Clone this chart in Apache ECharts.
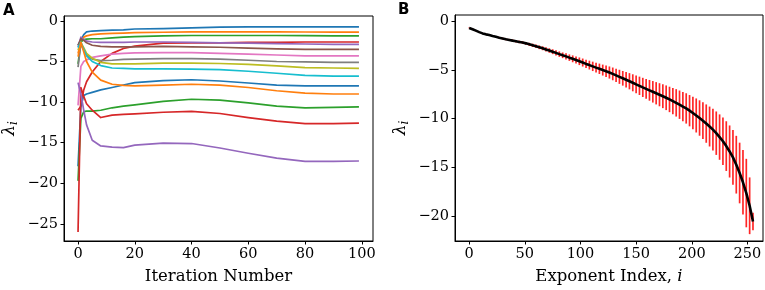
<!DOCTYPE html>
<html>
<head>
<meta charset="utf-8">
<script src="https://cdn.jsdelivr.net/npm/echarts@6/dist/echarts.min.js"></script>
<style>
  html, body { margin: 0; padding: 0; background: #fff; }
  #chart { width: 765px; height: 290px; }
</style>
</head>
<body>
<div id="chart"></div>
<script>
// ---- panel A: exponent estimates per iteration ----
const iterX = [0, 1, 2, 3, 5, 8, 12, 16, 20, 30, 40, 50, 60, 70, 80, 90, 99]

const exp01 = [-3.0, -2.4, -1.7, -1.35, -1.25, -1.2, -1.15, -1.1, -1.0, -0.95, -0.85, -0.78, -0.75, -0.75, -0.75, -0.75, -0.75]
const exp02 = [-4.0, -2.5, -2.0, -1.85, -1.7, -1.6, -1.55, -1.5, -1.45, -1.4, -1.35, -1.35, -1.35, -1.35, -1.37, -1.38, -1.38]
const exp03 = [-5.3, -2.6, -2.3, -2.25, -2.2, -2.2, -2.1, -2.0, -1.95, -1.85, -1.8, -1.8, -1.8, -1.8, -1.82, -1.85, -1.85]
const exp04 = [-11.0, -10.5, -8.5, -7.5, -6.3, -5.0, -4.0, -3.4, -3.1, -2.75, -2.7, -2.7, -2.65, -2.65, -2.6, -2.6, -2.6]
const exp05 = [-3.2, -2.0, -2.3, -2.5, -2.6, -2.65, -2.65, -2.65, -2.6, -2.6, -2.65, -2.7, -2.75, -2.8, -2.85, -2.9, -2.9]
const exp06 = [-3.0, -2.2, -2.4, -2.7, -3.0, -3.15, -3.2, -3.2, -3.2, -3.15, -3.2, -3.25, -3.35, -3.45, -3.5, -3.5, -3.5]
const exp07 = [-10.4, -5.6, -5.0, -4.8, -4.5, -4.3, -4.1, -4.0, -3.95, -3.9, -3.9, -4.0, -4.1, -4.2, -4.3, -4.3, -4.3]
const exp08 = [-5.7, -2.8, -3.6, -4.2, -4.7, -4.9, -4.85, -4.75, -4.7, -4.65, -4.65, -4.7, -4.85, -5.0, -5.05, -5.1, -5.1]
const exp09 = [-3.6, -2.7, -3.3, -4.0, -4.6, -5.1, -5.3, -5.3, -5.3, -5.2, -5.2, -5.25, -5.35, -5.55, -5.75, -5.8, -5.85]
const exp10 = [-3.3, -2.6, -3.5, -4.3, -5.0, -5.5, -5.8, -5.85, -5.9, -5.9, -5.95, -6.0, -6.2, -6.45, -6.7, -6.8, -6.8]
const exp11 = [-17.9, -10.5, -9.2, -9.0, -8.8, -8.5, -8.2, -7.9, -7.6, -7.35, -7.25, -7.4, -7.65, -7.9, -8.0, -8.0, -8.0]
const exp12 = [-4.4, -2.6, -3.8, -5.0, -6.3, -7.3, -7.8, -7.95, -8.0, -7.9, -7.8, -7.9, -8.2, -8.6, -8.9, -9.0, -9.0]
const exp13 = [-19.7, -12.0, -11.2, -11.1, -11.1, -11.0, -10.7, -10.5, -10.35, -9.9, -9.65, -9.75, -10.1, -10.5, -10.7, -10.65, -10.6]
const exp14 = [-26.0, -8.2, -9.3, -10.2, -11.0, -11.9, -11.6, -11.5, -11.45, -11.25, -11.15, -11.4, -11.9, -12.35, -12.65, -12.65, -12.6]
const exp15 = [-7.6, -9.0, -11.0, -12.8, -14.7, -15.4, -15.55, -15.6, -15.3, -15.05, -15.1, -15.65, -16.3, -16.9, -17.3, -17.3, -17.25]

const traces = [exp01, exp02, exp03, exp04, exp05, exp06, exp07, exp08, exp09, exp10, exp11, exp12, exp13, exp14, exp15]
const tab10 = ['#1f77b4', '#ff7f0e', '#2ca02c', '#d62728', '#9467bd', '#8c564b', '#e377c2', '#7f7f7f', '#bcbd22', '#17becf']

const iterTicks = [0, 20, 40, 60, 80, 100]
const lambdaTicksA = [0, -5, -10, -15, -20, -25]

// ---- panel B: spectrum mean and spread, every 3rd exponent ----
const expMean = [
  -0.72, -0.85, -1.0, -1.15, -1.28, -1.38, -1.45, -1.55, -1.63, -1.72,
  -1.8, -1.88, -1.95, -2.02, -2.08, -2.15, -2.22, -2.3, -2.4, -2.5,
  -2.6, -2.7, -2.8, -2.92, -3.03, -3.15, -3.27, -3.4, -3.52, -3.63,
  -3.76, -3.88, -4.0, -4.13, -4.26, -4.4, -4.52, -4.65, -4.78, -4.9,
  -5.03, -5.15, -5.28, -5.42, -5.57, -5.72, -5.87, -6.02, -6.17, -6.33,
  -6.49, -6.64, -6.8, -6.95, -7.1, -7.25, -7.4, -7.55, -7.7, -7.86,
  -8.03, -8.2, -8.38, -8.57, -8.76, -8.95, -9.18, -9.42, -9.67, -9.93,
  -10.2, -10.5, -10.8, -11.12, -11.48, -11.88, -12.3, -12.8, -13.35, -13.95,
  -14.7, -15.55, -16.5, -17.6, -18.9, -20.5
]
const expErr = [
  0.04, 0.05, 0.05, 0.06, 0.06, 0.07, 0.07, 0.08, 0.08, 0.09,
  0.1, 0.1, 0.11, 0.12, 0.12, 0.13, 0.14, 0.15, 0.16, 0.17,
  0.18, 0.19, 0.2, 0.22, 0.23, 0.25, 0.26, 0.28, 0.29, 0.31,
  0.33, 0.35, 0.37, 0.39, 0.41, 0.43, 0.45, 0.48, 0.5, 0.53,
  0.56, 0.59, 0.62, 0.65, 0.68, 0.72, 0.75, 0.79, 0.83, 0.87,
  0.9, 0.94, 0.98, 1.02, 1.06, 1.1, 1.14, 1.18, 1.22, 1.26,
  1.3, 1.35, 1.4, 1.45, 1.5, 1.55, 1.6, 1.67, 1.74, 1.81,
  1.88, 1.96, 2.04, 2.13, 2.22, 2.32, 2.42, 2.54, 2.66, 2.8,
  2.95, 3.1, 3.3, 3.5, 2.9, 0.9
]
const expIndex = expMean.map((v, k) => k * 3)

const indexTicks = [0, 50, 100, 150, 200, 250]
const lambdaTicksB = [0, -5, -10, -15, -20]

const SERIF = 'DejaVu Serif'
const minusFmt = (v) => String(v).replace('-', '\u2212')

function baseAxis(ticks, extra) {
  return Object.assign({
    type: 'value',
    splitLine: { show: false },
    axisLine: { show: true, onZero: false, lineStyle: { color: '#000', width: 1 } },
    axisTick: { show: true, length: 3.5, customValues: ticks, lineStyle: { color: '#000', width: 1 } },
    axisLabel: {
      customValues: ticks,
      color: '#000',
      fontFamily: SERIF,
      fontSize: 14.5,
      margin: 6,
      formatter: minusFmt,
    },
  }, extra)
}

const lambdaName = '{l|\u03bb}{s|i}'
const lambdaRich = {
  l: { fontFamily: SERIF, fontStyle: 'italic', fontSize: 17, color: '#000' },
  s: { fontFamily: SERIF, fontStyle: 'italic', fontSize: 12, color: '#000', verticalAlign: 'bottom', padding: [9, 0, 0, 0] },
}

let chart = echarts.init(document.getElementById('chart'), null, { renderer: 'canvas' })

let series = traces.map((arr, k) => ({
  type: 'line',
  xAxisIndex: 0,
  yAxisIndex: 0,
  showSymbol: false,
  symbol: 'none',
  data: iterX.map((x, j) => [x, arr[j]]),
  lineStyle: { color: tab10[k % 10], width: 1.7, join: 'round' },
  itemStyle: { color: tab10[k % 10] },
}))

series.push({
  type: 'custom',
  xAxisIndex: 1,
  yAxisIndex: 1,
  encode: { x: 0, y: [1, 2] },
  data: expIndex.map((x, j) => [x, expMean[j] - expErr[j], expMean[j] + expErr[j]]),
  renderItem: (params, api) => {
    let top = api.coord([api.value(0), api.value(2)])
    let bot = api.coord([api.value(0), api.value(1)])
    return {
      type: 'line',
      shape: { x1: top[0], y1: top[1], x2: bot[0], y2: bot[1] },
      style: { stroke: 'rgba(255,0,0,0.85)', lineWidth: 1.7 },
    }
  },
})

series.push({
  type: 'line',
  xAxisIndex: 1,
  yAxisIndex: 1,
  showSymbol: false,
  symbol: 'none',
  data: expIndex.map((x, j) => [x, expMean[j]]),
  lineStyle: { color: '#000', width: 2.6 },
  itemStyle: { color: '#000' },
  z: 5,
})

let option = {
  animation: false,
  backgroundColor: '#fff',
  textStyle: { fontFamily: SERIF },
  graphic: [
    { type: 'text', left: 3, top: 4, style: { text: 'A', fontFamily: 'DejaVu Sans', fontWeight: 'bold', fontSize: 15, fill: '#000' } },
    { type: 'text', left: 398, top: 3, style: { text: 'B', fontFamily: 'DejaVu Sans', fontWeight: 'bold', fontSize: 15, fill: '#000' } },
  ],
  grid: [
    { left: 63, top: 16, width: 310, height: 227, show: true, borderColor: '#000', borderWidth: 1, backgroundColor: 'transparent' },
    { left: 455, top: 15, width: 308, height: 228, show: true, borderColor: '#000', borderWidth: 1, backgroundColor: 'transparent' },
  ],
  xAxis: [
    baseAxis(iterTicks, {
      gridIndex: 0, min: -4.95, max: 103.95,
      name: 'Iteration Number', nameLocation: 'middle', nameGap: 27,
      nameTextStyle: { fontFamily: SERIF, fontSize: 16.5, color: '#000' },
    }),
    baseAxis(indexTicks, {
      gridIndex: 1, min: -12.75, max: 264,
      name: '{t|Exponent Index, }{i|i}', nameLocation: 'middle', nameGap: 27,
      nameTextStyle: {
        rich: {
          t: { fontFamily: SERIF, fontSize: 16.5, color: '#000' },
          i: { fontFamily: SERIF, fontStyle: 'italic', fontSize: 16.5, color: '#000' },
        },
      },
    }),
  ],
  yAxis: [
    baseAxis(lambdaTicksA, {
      gridIndex: 0, min: -27.1, max: 0.6,
      name: lambdaName, nameLocation: 'middle', nameGap: 44, nameRotate: 90,
      nameTextStyle: { rich: lambdaRich },
    }),
    baseAxis(lambdaTicksB, {
      gridIndex: 1, min: -22.5, max: 0.6,
      name: lambdaName, nameLocation: 'middle', nameGap: 44, nameRotate: 90,
      nameTextStyle: { rich: lambdaRich },
    }),
  ],
  series: series,
}

chart.setOption(option)
</script>
</body>
</html>
